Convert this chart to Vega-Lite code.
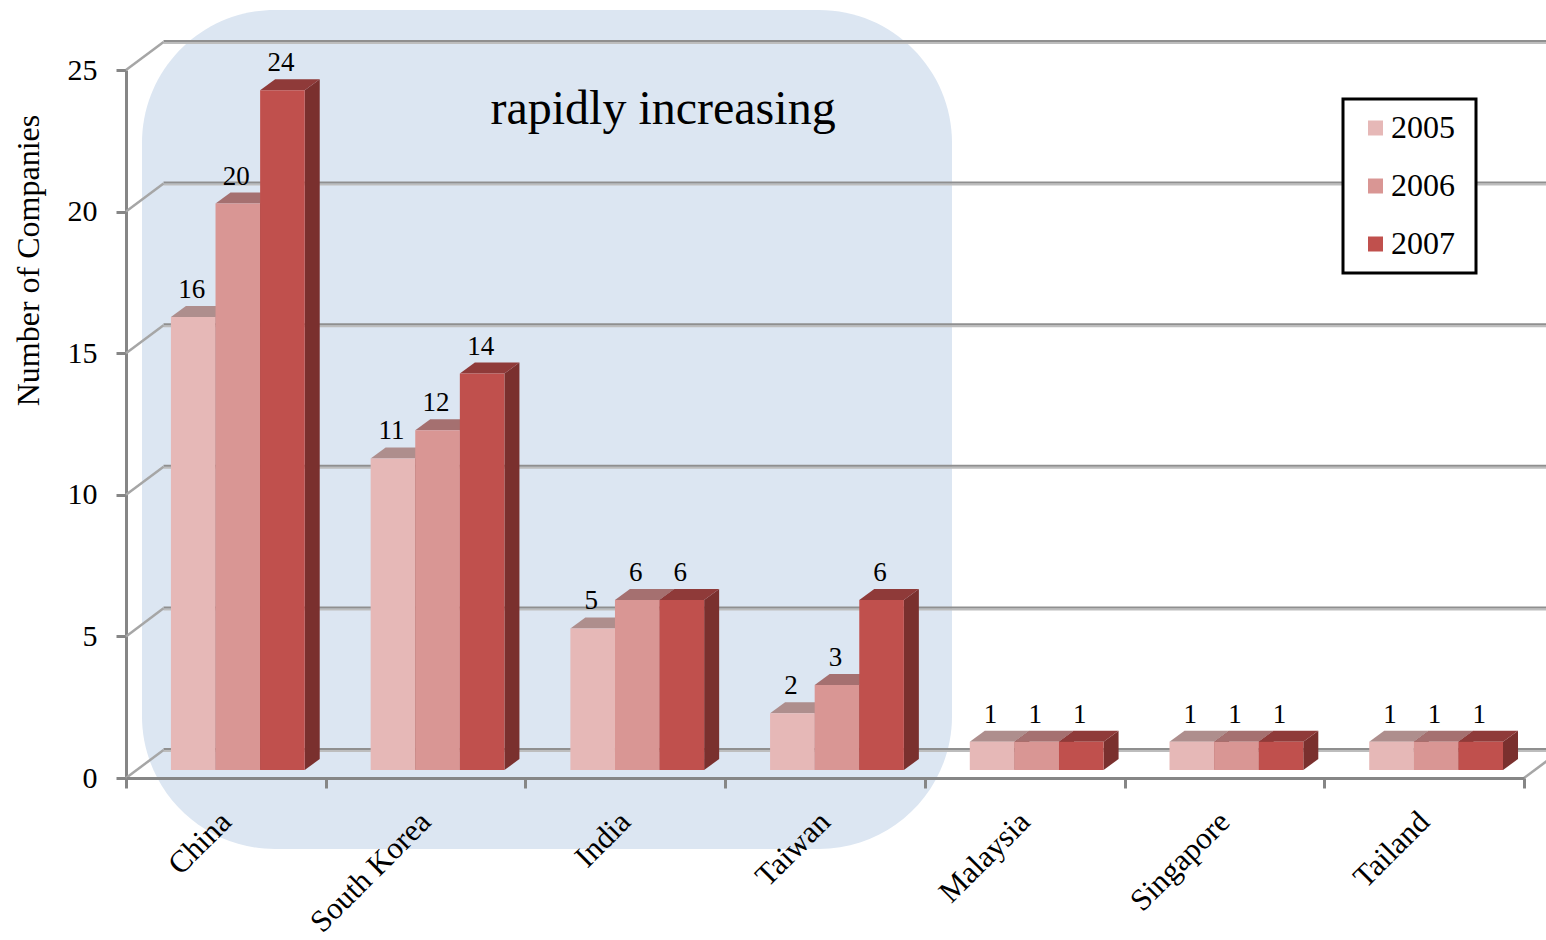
{
  "$schema": "https://vega.github.io/schema/vega-lite/v6.json",
  "width": 1398,
  "height": 778,
  "padding": {"left": 126, "top": 0, "right": 22, "bottom": 162},
  "autosize": "none",
  "background": "white",
  "config": {
    "view": {"stroke": null},
    "font": "Liberation Serif",
    "legend": {"strokeWidth": 3}
  },
  "datasets": {
    "companies": [
      {"country": "China", "year": 2005, "value": 16},
      {"country": "China", "year": 2006, "value": 20},
      {"country": "China", "year": 2007, "value": 24},
      {"country": "South Korea", "year": 2005, "value": 11},
      {"country": "South Korea", "year": 2006, "value": 12},
      {"country": "South Korea", "year": 2007, "value": 14},
      {"country": "India", "year": 2005, "value": 5},
      {"country": "India", "year": 2006, "value": 6},
      {"country": "India", "year": 2007, "value": 6},
      {"country": "Taiwan", "year": 2005, "value": 2},
      {"country": "Taiwan", "year": 2006, "value": 3},
      {"country": "Taiwan", "year": 2007, "value": 6},
      {"country": "Malaysia", "year": 2005, "value": 1},
      {"country": "Malaysia", "year": 2006, "value": 1},
      {"country": "Malaysia", "year": 2007, "value": 1},
      {"country": "Singapore", "year": 2005, "value": 1},
      {"country": "Singapore", "year": 2006, "value": 1},
      {"country": "Singapore", "year": 2007, "value": 1},
      {"country": "Tailand", "year": 2005, "value": 1},
      {"country": "Tailand", "year": 2006, "value": 1},
      {"country": "Tailand", "year": 2007, "value": 1}
    ],
    "ticks": [{"v": 0}, {"v": 5}, {"v": 10}, {"v": 15}, {"v": 20}, {"v": 25}],
    "note": [{"label": "rapidly increasing"}]
  },
  "data": {"name": "companies"},
  "transform": [
    {"calculate": "indexof(['China','South Korea','India','Taiwan','Malaysia','Singapore','Tailand'], datum.country) + 0.225 + (datum.year - 2005) * 0.2233", "as": "left"},
    {"calculate": "datum.left + 0.2233", "as": "right"},
    {"calculate": "(datum.left + datum.right) / 2", "as": "mid"},
    {"calculate": "['#ae8e8d', '#a57070', '#8f3a39'][datum.year - 2005]", "as": "topShade"}
  ],
  "resolve": {"axis": {"x": "independent", "y": "independent"}},
  "layer": [
    {
      "data": {"name": "note"},
      "mark": {"type": "rect", "cornerRadius": 133, "fill": "#dce6f2"},
      "encoding": {
        "x": {"datum": 0.08, "type": "quantitative", "scale": {"domain": [0, 7]}, "axis": null},
        "x2": {"datum": 4.136},
        "y": {"datum": -2.507, "type": "quantitative", "scale": {"domain": [0, 25], "range": [778, 70]}, "axis": null},
        "y2": {"datum": 27.12}
      }
    },
    {
      "data": {"name": "ticks"},
      "mark": {"type": "rule", "stroke": "#bdbdbd", "strokeWidth": 2, "xOffset": 37.5, "x2Offset": 37.5, "yOffset": -27},
      "encoding": {
        "x": {"datum": 0, "type": "quantitative", "scale": {"domain": [0, 7]}, "axis": null},
        "x2": {"datum": 7},
        "y": {"field": "v", "type": "quantitative", "scale": {"domain": [0, 25], "range": [778, 70]}, "axis": null}
      }
    },
    {
      "data": {"name": "ticks"},
      "mark": {"type": "rule", "stroke": "#8f8f8f", "strokeWidth": 2, "xOffset": 37.5, "x2Offset": 37.5, "yOffset": -29},
      "encoding": {
        "x": {"datum": 0, "type": "quantitative", "scale": {"domain": [0, 7]}, "axis": null},
        "x2": {"datum": 7},
        "y": {"field": "v", "type": "quantitative", "scale": {"domain": [0, 25], "range": [778, 70]}, "axis": null}
      }
    },
    {
      "data": {"name": "ticks"},
      "transform": [{"calculate": "datum.v + 0.99", "as": "backV"}],
      "mark": {"type": "rule", "stroke": "#a6a6a6", "strokeWidth": 2.5},
      "encoding": {
        "x": {"datum": 0, "type": "quantitative", "scale": {"domain": [0, 7]}, "axis": null},
        "x2": {"datum": 0.188},
        "y": {"field": "v", "type": "quantitative", "scale": {"domain": [0, 25], "range": [778, 70]}, "axis": null},
        "y2": {"field": "backV"}
      }
    },
    {
      "data": {"name": "note"},
      "mark": {"type": "rule", "stroke": "#a6a6a6", "strokeWidth": 2.5},
      "encoding": {
        "x": {"datum": 7, "type": "quantitative", "scale": {"domain": [0, 7]}, "axis": null},
        "x2": {"datum": 7.188},
        "y": {"datum": 0, "type": "quantitative", "scale": {"domain": [0, 25], "range": [778, 70]}, "axis": null},
        "y2": {"datum": 0.99}
      }
    },
    {
      "data": {"name": "ticks"},
      "mark": {"type": "rule", "opacity": 0},
      "encoding": {
        "x": {
          "datum": 0,
          "type": "quantitative",
          "scale": {"domain": [0, 7]},
          "axis": {
            "values": [0, 1, 2, 3, 4, 5, 6, 7],
            "title": null,
            "grid": false,
            "zindex": 1,
            "domainColor": "#868686",
            "domainWidth": 3,
            "tickColor": "#868686",
            "tickWidth": 3,
            "tickSize": 10,
            "labelFont": "Liberation Serif",
            "labelFontSize": 31,
            "labelColor": "#000000",
            "labelAngle": -45,
            "labelAlign": "right",
            "labelBaseline": "middle",
            "labelOffset": 100,
            "labelPadding": 29,
            "labelOverlap": false,
            "labelFlush": false,
            "labelBound": false,
            "labelExpr": "['China','South Korea','India','Taiwan','Malaysia','Singapore','Tailand',''][datum.value]"
          }
        },
        "y": {
          "field": "v",
          "type": "quantitative",
          "scale": {"domain": [0, 25], "range": [778, 70]},
          "axis": {
            "values": [0, 5, 10, 15, 20, 25],
            "title": "Number of Companies",
            "titleFont": "Liberation Serif",
            "titleFontSize": 32,
            "titleFontWeight": "normal",
            "titleColor": "#000000",
            "titlePadding": 22,
            "titleY": 260,
            "grid": false,
            "domainColor": "#868686",
            "domainWidth": 3,
            "tickColor": "#868686",
            "tickWidth": 3,
            "tickSize": 10,
            "labelFont": "Liberation Serif",
            "labelFontSize": 30,
            "labelColor": "#000000",
            "labelPadding": 19
          }
        }
      }
    },
    {
      "data": {"name": "note"},
      "mark": {"type": "text", "fontSize": 48, "font": "Liberation Serif", "color": "#000000", "align": "center", "baseline": "middle"},
      "encoding": {
        "x": {"datum": 2.689, "type": "quantitative", "scale": {"domain": [0, 7]}, "axis": null},
        "y": {"datum": 23.59, "type": "quantitative", "scale": {"domain": [0, 25], "range": [778, 70]}, "axis": null},
        "text": {"field": "label"}
      }
    },
    {
      "transform": [
        {"calculate": "[0, 1]", "as": "corner"},
        {"flatten": ["corner"]},
        {"calculate": "datum.right + datum.corner * 0.0751", "as": "sideX"},
        {"calculate": "datum.value + datum.corner * 0.388", "as": "sideTop"},
        {"calculate": "datum.corner * 0.388", "as": "sideBase"},
        {"calculate": "datum.country + datum.year", "as": "bar"}
      ],
      "mark": {"type": "area", "orient": "vertical", "fill": "#7a302e", "yOffset": -8, "y2Offset": -8},
      "encoding": {
        "x": {"field": "sideX", "type": "quantitative", "scale": {"domain": [0, 7]}, "axis": null},
        "y": {"field": "sideTop", "type": "quantitative", "scale": {"domain": [0, 25], "range": [778, 70]}, "axis": null},
        "y2": {"field": "sideBase"},
        "detail": {"field": "bar"}
      }
    },
    {
      "mark": {"type": "point", "filled": true, "size": 4, "opacity": 1, "strokeWidth": 0, "yOffset": -8, "shape": "M-22.3,0 L22.3,0 L37.3,-11 L-7.3,-11 Z"},
      "encoding": {
        "x": {"field": "mid", "type": "quantitative", "scale": {"domain": [0, 7]}, "axis": null},
        "y": {"field": "value", "type": "quantitative", "scale": {"domain": [0, 25], "range": [778, 70]}, "axis": null},
        "fill": {"field": "topShade", "type": "nominal", "scale": null}
      }
    },
    {
      "mark": {"type": "rect", "yOffset": -8, "y2Offset": -8},
      "encoding": {
        "x": {"field": "left", "type": "quantitative", "scale": {"domain": [0, 7]}, "axis": null},
        "x2": {"field": "right"},
        "y": {"field": "value", "type": "quantitative", "scale": {"domain": [0, 25], "range": [778, 70]}, "axis": null},
        "y2": {"datum": 0},
        "color": {
          "field": "year",
          "type": "nominal",
          "scale": {"domain": [2005, 2006, 2007], "range": ["#e6b8b7", "#d99694", "#c0504d"]},
          "legend": {
            "title": "\u00a0",
            "titleOrient": "right",
            "titleFontSize": 1,
            "titlePadding": 8,
            "orient": "none",
            "legendX": 1217,
            "legendY": 99,
            "fillColor": "white",
            "strokeColor": "black",
            "padding": 13,
            "symbolType": "square",
            "symbolSize": 225,
            "symbolStrokeWidth": 0,
            "symbolOffset": 3.5,
            "labelFont": "Liberation Serif",
            "labelFontSize": 32,
            "labelColor": "#000000",
            "labelOffset": -0.5,
            "clipHeight": 32,
            "rowPadding": 26
          }
        }
      }
    },
    {
      "mark": {"type": "text", "fontSize": 27, "font": "Liberation Serif", "color": "#000000", "align": "center", "baseline": "middle", "yOffset": -35, "dx": -1.5},
      "encoding": {
        "x": {"field": "mid", "type": "quantitative", "scale": {"domain": [0, 7]}, "axis": null},
        "y": {"field": "value", "type": "quantitative", "scale": {"domain": [0, 25], "range": [778, 70]}, "axis": null},
        "text": {"field": "value", "type": "quantitative"}
      }
    }
  ]
}
